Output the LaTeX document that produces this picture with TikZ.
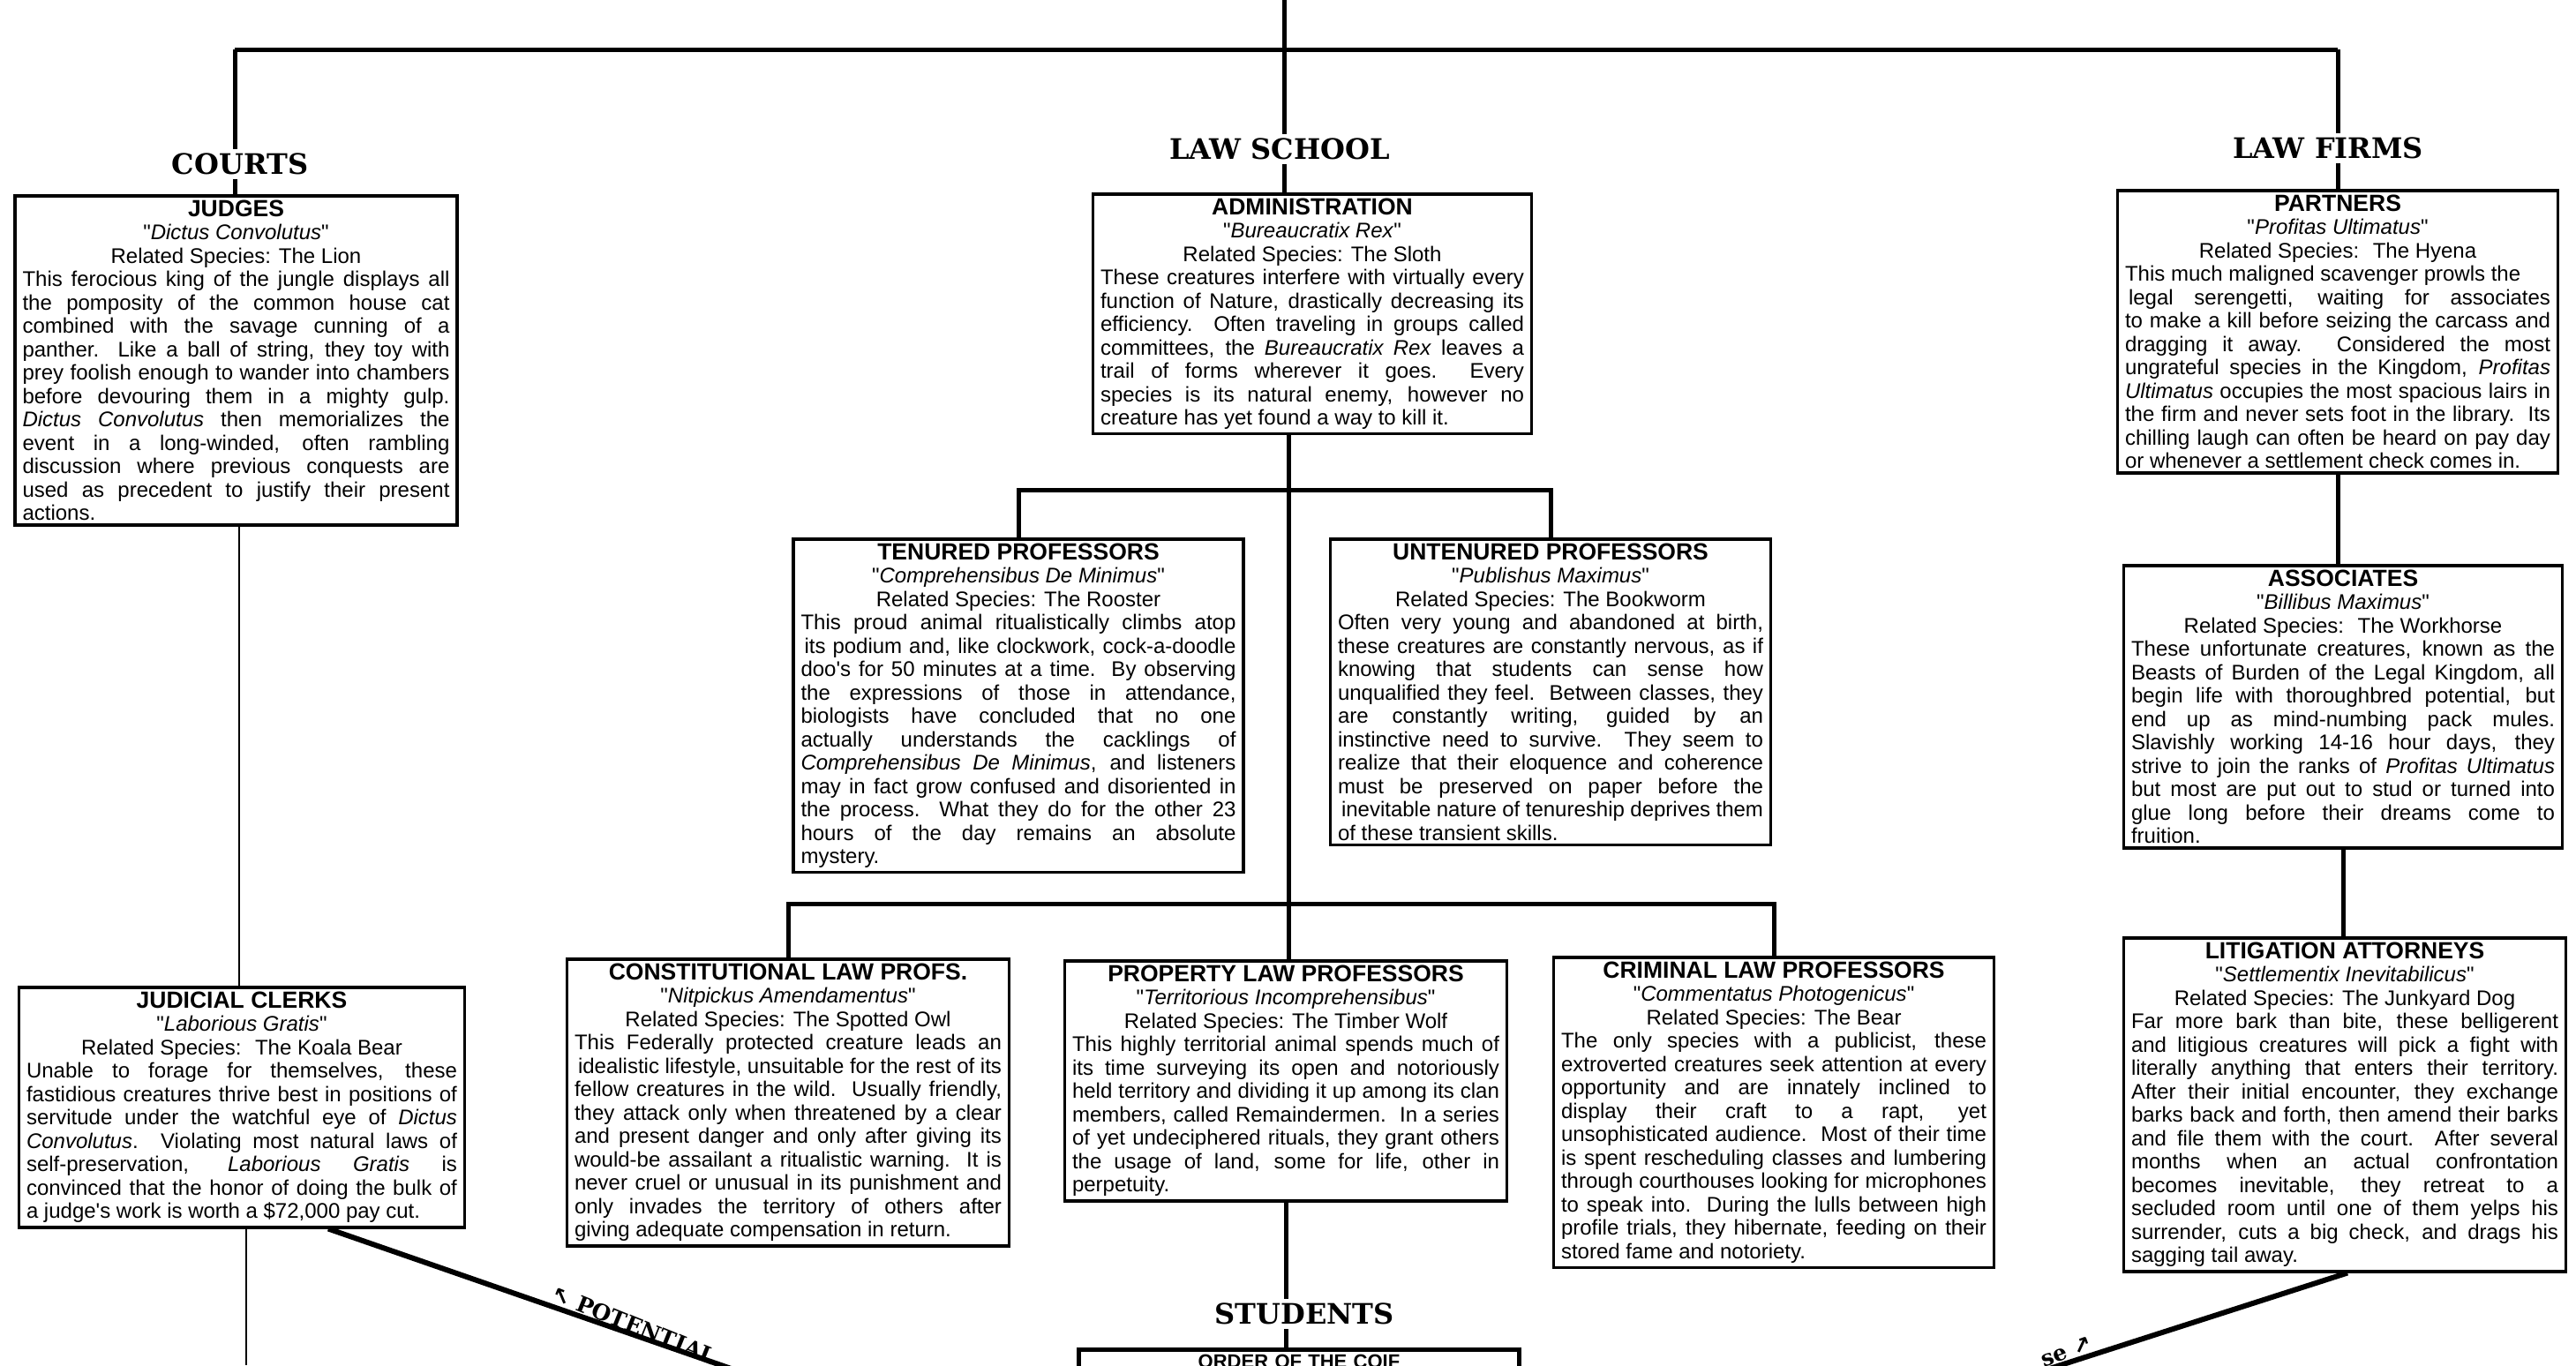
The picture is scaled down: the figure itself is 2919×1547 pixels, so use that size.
\documentclass[tikz,border=0pt]{standalone}
\usepackage{fontspec}
\setmainfont{Liberation Sans}[Ligatures=TeXOff]
\newfontfamily\headfont{DejaVu Serif}
\newfontfamily\arrowfont{DejaVu Sans}
\setlength{\parindent}{0pt}
\setlength{\parskip}{0pt}
\hbadness=10000 \hfuzz=30pt \vbadness=10000
\newcommand{\crhead}[3]{{\centering{\fontsize{26.5}{28}\selectfont\bfseries #1}\par "\textit{#2}"\par Related Species: #3\par}}
\tikzset{
  critter/.style={draw, line width=3.5pt, fill=white, anchor=north, inner xsep=8.5pt, inner ysep=5pt,
    align=justify, text width=#1, font=\fontsize{24}{26.5}\selectfont},
  headlbl/.style={font=\headfont\bfseries\fontsize{32}{36}\selectfont, inner sep=5pt},
  conn/.style={line width=5pt},
  thinconn/.style={line width=2.5pt},
  potline/.style={line width=6pt},
  potlbl/.style={font=\headfont\bfseries\fontsize{25}{28}\selectfont, inner sep=1pt},
}
\begin{document}
\begin{tikzpicture}[x=1pt,y=-1pt]
\useasboundingbox (0,0) rectangle (2919,1547);
\clip (0,0) rectangle (2919,1547);
\fill[white] (0,0) rectangle (2919,1547);

% named coordinates
\coordinate (spinetop) at (1455,0);
\coordinate (hbarL) at (266,56);
\coordinate (hbarR) at (2649,56);
\coordinate (bar1) at (1460,555);
\coordinate (bar2) at (1460,1024);
\coordinate (clerkline) at (271,0);
\coordinate (clerkbot) at (279,1547);
\coordinate (potA) at (372,0);
\coordinate (potB) at (840,1555);
\coordinate (litA) at (2660,0);
\coordinate (litB) at (2310,1555);

% headings
\node[headlbl] (lawschool) at (1450,169) {LAW SCHOOL};
\node[headlbl] (courts) at (272,186) {COURTS};
\node[headlbl] (lawfirms) at (2638,168) {LAW FIRMS};
\node[headlbl] (students) at (1478,1489) {STUDENTS};

% boxes
\node[critter=484pt] (judges) at (267.5,220) {\crhead{JUDGES}{Dictus Convolutus}{The Lion}
This ferocious king of the jungle displays all\linebreak
the pomposity of the common house cat\linebreak
combined with the savage cunning of a\linebreak
panther.\ \ Like a ball of string, they toy with\linebreak
prey foolish enough to wander into chambers\linebreak
before devouring them in a mighty gulp.\linebreak
\textit{Dictus Convolutus} then memorializes the\linebreak
event in a long-winded, often rambling\linebreak
discussion where previous conquests are\linebreak
used as precedent to justify their present\linebreak
actions.};

\node[critter=480pt] (admin) at (1487,218) {\crhead{ADMINISTRATION}{Bureaucratix Rex}{The Sloth}
These creatures interfere with virtually every\linebreak
function of Nature, drastically decreasing its\linebreak
efficiency.\ \ Often traveling in groups called\linebreak
committees, the \textit{Bureaucratix Rex} leaves a\linebreak
trail of forms wherever it goes.\ \ Every\linebreak
species is its natural enemy, however no\linebreak
creature has yet found a way to kill it.};

\node[critter=482pt] (partners) at (2649,214) {\crhead{PARTNERS}{Profitas Ultimatus}{\ The Hyena}
This much maligned scavenger prowls the\newline
\hspace*{4pt}legal serengetti, waiting for associates\linebreak
to make a kill before seizing the carcass and\linebreak
dragging it away. Considered the most\linebreak
ungrateful species in the Kingdom, \textit{Profitas}\linebreak
\textit{Ultimatus} occupies the most spacious lairs in\linebreak
the firm and never sets foot in the library.\ \ Its\linebreak
chilling laugh can often be heard on pay day\linebreak
or whenever a settlement check comes in.};

\node[critter=493pt] (tenured) at (1154,609) {\crhead{TENURED PROFESSORS}{Comprehensibus De Minimus}{The Rooster}
This proud animal ritualistically climbs atop\linebreak
\hspace*{4pt}its podium and, like clockwork, cock-a-doodle\linebreak
doo's for 50 minutes at a time.\ \ By observing\linebreak
the expressions of those in attendance,\linebreak
biologists have concluded that no one\linebreak
actually understands the cacklings of\linebreak
\textit{Comprehensibus De Minimus}, and listeners\linebreak
may in fact grow confused and disoriented in\linebreak
the process.\ \ What they do for the other 23\linebreak
hours of the day remains an absolute\linebreak
mystery.};

\node[critter=482pt] (untenured) at (1757,609) {\crhead{UNTENURED PROFESSORS}{Publishus Maximus}{The Bookworm}
Often very young and abandoned at birth,\linebreak
these creatures are constantly nervous, as if\linebreak
knowing that students can sense how\linebreak
unqualified they feel.\ \ Between classes, they\linebreak
are constantly writing, guided by an\linebreak
instinctive need to survive.\ \ They seem to\linebreak
realize that their eloquence and coherence\linebreak
must be preserved on paper before the\linebreak
\hspace*{4pt}inevitable nature of tenureship deprives them\linebreak
of these transient skills.};

\node[critter=480pt] (associates) at (2655,639) {\crhead{ASSOCIATES}{Billibus Maximus}{\ The Workhorse}
These unfortunate creatures, known as the\linebreak
Beasts of Burden of the Legal Kingdom, all\linebreak
begin life with thoroughbred potential, but\linebreak
end up as mind-numbing pack mules.\linebreak
Slavishly working 14-16 hour days, they\linebreak
strive to join the ranks of \textit{Profitas Ultimatus}\linebreak
but most are put out to stud or turned into\linebreak
glue long before their dreams come to\linebreak
fruition.};

\node[critter=488pt] (clerks) at (274,1117) {\crhead{JUDICIAL CLERKS}{Laborious Gratis}{\ The Koala Bear}
Unable to forage for themselves, these\linebreak
fastidious creatures thrive best in positions of\linebreak
servitude under the watchful eye of \textit{Dictus}\linebreak
\textit{Convolutus}.\ \ Violating most natural laws of\linebreak
self-preservation, \textit{Laborious Gratis} is\linebreak
convinced that the honor of doing the bulk of\linebreak
a judge's work is worth a \$72,000 pay cut.};

\node[critter=484pt] (const) at (893,1085) {\crhead{CONSTITUTIONAL LAW PROFS.}{Nitpickus Amendamentus}{The Spotted Owl}
This Federally protected creature leads an\linebreak
\hspace*{4pt}idealistic lifestyle, unsuitable for the rest of its\linebreak
fellow creatures in the wild.\ \ Usually friendly,\linebreak
they attack only when threatened by a clear\linebreak
and present danger and only after giving its\linebreak
would-be assailant a ritualistic warning.\ \ It is\linebreak
never cruel or unusual in its punishment and\linebreak
only invades the territory of others after\linebreak
giving adequate compensation in return.};

\node[critter=484pt] (property) at (1457,1087) {\crhead{PROPERTY LAW PROFESSORS}{Territorious Incomprehensibus}{The Timber Wolf}
This highly territorial animal spends much of\linebreak
its time surveying its open and notoriously\linebreak
held territory and dividing it up among its clan\linebreak
members, called Remaindermen.\ \ In a series\linebreak
of yet undeciphered rituals, they grant others\linebreak
the usage of land, some for life, other in\linebreak
perpetuity.};

\node[critter=482pt] (criminal) at (2010,1083) {\crhead{CRIMINAL LAW PROFESSORS}{Commentatus Photogenicus}{The Bear}
The only species with a publicist, these\linebreak
extroverted creatures seek attention at every\linebreak
opportunity and are innately inclined to\linebreak
display their craft to a rapt, yet\linebreak
unsophisticated audience.\ \ Most of their time\linebreak
is spent rescheduling classes and lumbering\linebreak
through courthouses looking for microphones\linebreak
to speak into.\ \ During the lulls between high\linebreak
profile trials, they hibernate, feeding on their\linebreak
stored fame and notoriety.};

\node[critter=484pt] (litigation) at (2657,1061) {\crhead{LITIGATION ATTORNEYS}{Settlementix Inevitabilicus}{The Junkyard Dog}
Far more bark than bite, these belligerent\linebreak
and litigious creatures will pick a fight with\linebreak
literally anything that enters their territory.\linebreak
After their initial encounter, they exchange\linebreak
barks back and forth, then amend their barks\linebreak
and file them with the court.\ \ After several\linebreak
months when an actual confrontation\linebreak
becomes inevitable, they retreat to a\linebreak
secluded room until one of them yelps his\linebreak
surrender, cuts a big check, and drags his\linebreak
sagging tail away.};

\node[draw, line width=4.5pt, anchor=north, text width=482pt, inner xsep=8.5pt, inner ysep=6pt,
  align=center, font=\bfseries\fontsize{22}{24}\selectfont] (coif) at (1472,1527)
  {ORDER OF THE COIF\par\vspace*{60pt}};

% connectors
\draw[conn] (spinetop) -- (spinetop |- lawschool.north);
\draw[conn] (spinetop |- lawschool.south) -- (spinetop |- admin.north);
\draw[conn] (hbarL) -- (hbarR);
\draw[conn] (hbarL) -- (hbarL |- courts.north);
\draw[conn] (hbarL |- courts.south) -- (hbarL |- judges.north);
\draw[conn] (hbarR) -- (hbarR |- lawfirms.north);
\draw[conn] (hbarR |- lawfirms.south) -- (hbarR |- partners.north);
\draw[conn] (bar1 |- admin.south) -- (bar1);
\draw[conn] (tenured.north) |- (bar1) -| (untenured.north);
\draw[conn] (bar1) -- (bar2);
\draw[conn] (const.north) |- (bar2) -| (criminal.north);
\draw[conn] (bar2) -- (bar2 |- property.north);
\draw[conn] (partners.south) -- (partners.south |- associates.north);
\draw[conn] (associates.south) -- (associates.south |- litigation.north);
\draw[conn] (property.south) -- (property.south |- students.north);
\draw[conn] (property.south |- students.south) -- (property.south |- coif.north);
\draw[thinconn] (clerkline |- judges.south) -- (clerkline |- clerks.north);
\draw[thinconn] (clerkbot |- clerks.south) -- (clerkbot);
\draw[potline] (potA |- clerks.south) -- (potB);
\draw[potline] (litA |- litigation.south) -- (litB);

% diagonal labels
\node[potlbl, rotate=-22, anchor=south west] (potleft) at (622,1474) {{\arrowfont ↖}\ POTENTIAL};
\node[potlbl, rotate=20, anchor=south east] (potright) at (2374,1530) {se\ {\arrowfont ↗}};
\end{tikzpicture}
\end{document}
